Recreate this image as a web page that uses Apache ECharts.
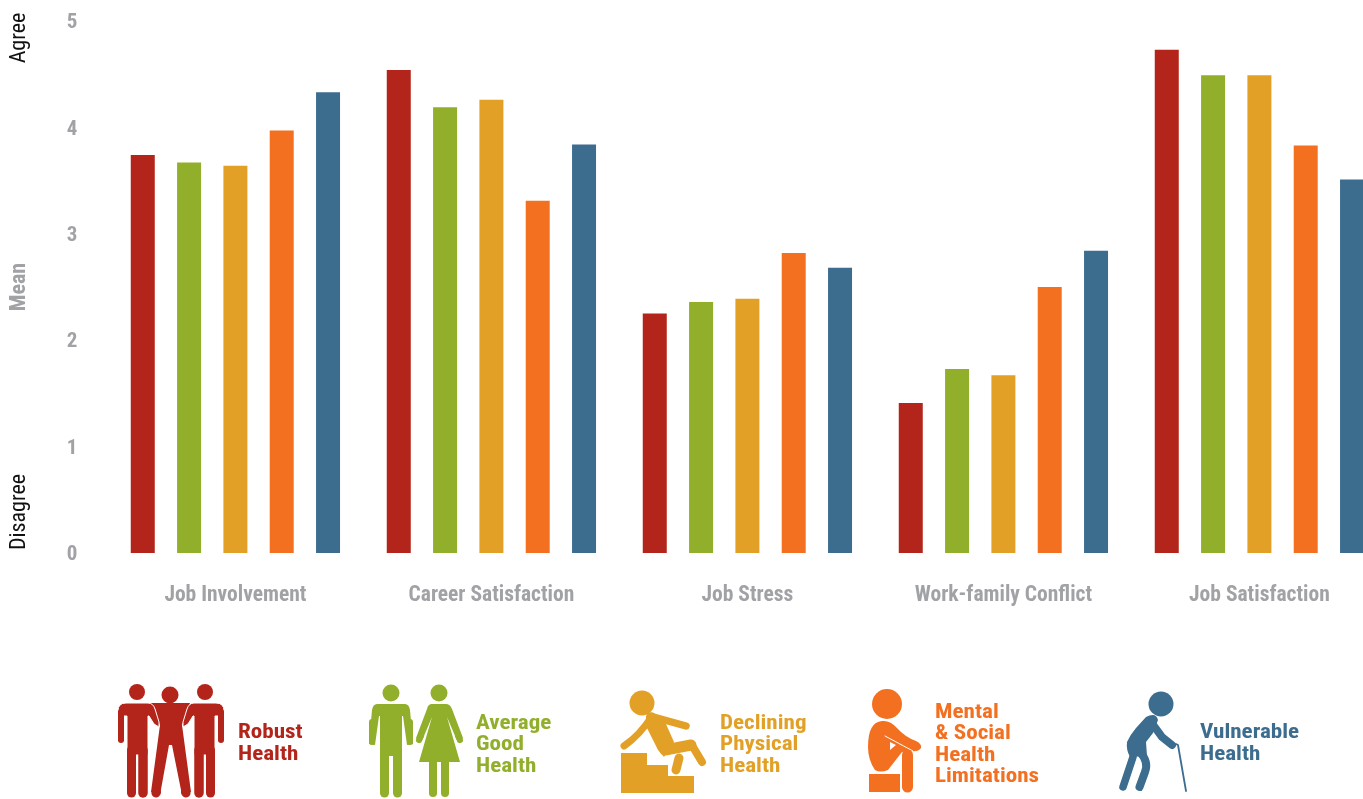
<!DOCTYPE html>
<html><head><meta charset="utf-8">
<style>html,body{margin:0;padding:0;background:#fff}#c{width:1363px;height:799px}</style>
<script src="https://cdn.jsdelivr.net/npm/echarts@6/dist/echarts.min.js"></script></head>
<body><div id="c"></div>
<script>
const categories = ['Job Involvement','Career Satisfaction','Job Stress','Work-family Conflict','Job Satisfaction'];
const robust    = [3.74,4.54,2.25,1.41,4.73];
const average   = [3.67,4.19,2.36,1.73,4.49];
const declining = [3.64,4.26,2.39,1.67,4.49];
const mental    = [3.97,3.31,2.82,2.50,3.83];
const vulnerable= [4.33,3.84,2.68,2.84,3.51];
const seriesNames = ['Robust Health','Average Good Health','Declining Physical Health','Mental & Social Health Limitations','Vulnerable Health'];
const colors = ['#B3241A','#92AF2C','#E3A026','#F47021','#3C6D8F'];
const legendLines = [['Robust','Health'],['Average','Good','Health'],['Declining','Physical','Health'],['Mental','& Social','Health','Limitations'],['Vulnerable','Health']];
const GREY='#A0A2A5', FONT='"Roboto Condensed","Liberation Sans",sans-serif';

let shapeCount=0;
function pathType(d){const n='iconPath'+(shapeCount++);echarts.graphic.registerShape(n,echarts.graphic.extendPath(d));return n;}
function head(cx,cy,r,c){return {type:'circle',silent:true,shape:{cx,cy,r},style:{fill:c}};}
function fillP(d,c){return {type:pathType(d),silent:true,style:{fill:c}};}
function limb(d,c,w){return {type:pathType(d),silent:true,style:{fill:'none',stroke:c,lineWidth:w,lineCap:'round',lineJoin:'round'}};}
function manRed(x,dir,c){
  const X=v=>x+dir*v;
  return [
    head(X(19),692,8,c),
    {type:pathType(`M${X(0)} 711 Q${X(0)} 703 ${X(8)} 703 L${X(30)} 703 Q${X(35)} 703 ${X(37)} 709 L${X(41)} 722 L${X(41)} 727 L${X(36)} 724 L${X(31)} 716 L${X(30)} 716 L${X(30)} 755 L${X(9)} 755 L${X(9)} 716 L${X(6)} 716 L${X(6)} 741 L${X(0)} 741 Z`),silent:true,style:{fill:c,stroke:'#fff',lineWidth:1}},
    limb(`M${X(3)} 712 L${X(3)} 740`,c,6),
    limb(`M${X(13.5)} 750 L${X(13.5)} 793`,c,9),
    limb(`M${X(25)} 750 L${X(25)} 793`,c,9.5)
  ];
}
const c0=colors[0],c1=colors[1],c2=colors[2],c3=colors[3],c4=colors[4];
const icons=[
  head(170,695,8.5,c0),
  fillP('M150 703 L190 703 L182 725 L182 728 L160 728 L160 725 Z',c0),
  fillP('M160 725 L182 725 L191 792 L182 795 L172 745 L169 745 L160 795 L151 792 Z',c0),
  limb('M156 793 L156.5 792',c0,9),
  limb('M186 793 L185.5 792',c0,9),
  ...manRed(118,1,c0),
  ...manRed(224,-1,c0),
  head(391,693,8.5,c1),
  fillP('M377 704 L405 704 Q409 704 410 710 L413 744 L407 745 L403 716 L402 716 L402 756 L380 756 L380 716 L379 716 L375 745 L369 744 L372 710 Q373 704 377 704 Z',c1),
  limb('M384.5 750 L384.5 793',c1,9),
  limb('M397.5 750 L397.5 793',c1,9),
  limb('M372 722 L372 742',c1,6),
  limb('M410 722 L410 742',c1,6),
  head(439,693,8.5,c1),
  fillP('M432 704 L446 704 Q450 704 452 709 L463 738 L458 743 L447 717 L460 762 L419 762 L432 717 L421 743 L416 738 L427 709 Q428 704 432 704 Z',c1),
  limb('M419 740 L421 736',c1,6),
  limb('M460 740 L458 736',c1,6),
  limb('M433 758 L433 793',c1,8),
  limb('M445 758 L445 793',c1,8),
  head(642,703,12.5,c2),
  fillP('M621 753 L647 753 L647 765 L668 765 L668 776 L694 776 L694 793 L621 793 Z',c2),
  limb('M652 716 Q640 735 624 746',c2,7),
  limb('M650 716 L686 726',c2,7.5),
  fillP('M646 716 L660 718 L666 724 L674 742 L664 757 L658 750 L646 726 Z',c2),
  limb('M665 750 L691 745',c2,11),
  limb('M693 747 L702 762',c2,8),
  limb('M679 758 L676 770',c2,9),
  head(887,704,15,c3),
  fillP('M868 747 Q868 722 882 721 Q890 720 897 728 Q905 737 916 741 Q922 744 921 748 Q918 752 912 751 L902 752 L888 770 Q880 773 875 770 Q868 760 868 747 Z',c3),
  fillP('M869 774 L900 774 L900 792 L869 792 Z',c3),
  limb('M885 736 L913 751','#fff',1),
  fillP('M890 750 L896 745 L890 742 Z','#fff'),
  limb('M907.5 755 L907.5 787',c3,11),
  head(1161,704,12.5,c4),
  fillP('M1146 717 Q1156 712 1158 720 L1153 733 L1146 742 L1147 756 L1130 757 Q1126 750 1127 742 Q1130 735 1136 728 Z',c4),
  limb('M1151 722 L1162 737 L1172 745',c4,8),
  limb('M1133 757 L1123 787',c4,7.5),
  limb('M1140 752 Q1149 762 1145 772 L1139.5 787',c4,8),
  limb('M1176 744 L1178 745 L1186 791',c4,1.8)
];

const legendX=[238,476,720,935,1200];
const legendY=[[733,755],[724,745,767],[724,745,767],[713,734,756,777],[733,755]];
const legendTexts=[];
legendLines.forEach((lines,i)=>lines.forEach((t,j)=>legendTexts.push({
  type:'text',silent:true,x:legendX[i],y:legendY[i][j],
  scaleX:1.1,
  style:{text:t,fill:colors[i],font:'bold 21px '+FONT,textAlign:'left',textVerticalAlign:'middle'}
})));
const sideTexts=[
  {type:'text',silent:true,x:19.5,y:38,rotation:Math.PI/2,style:{text:'Agree',fill:'#111',font:'22px '+FONT,textAlign:'center',textVerticalAlign:'middle'}},
  {type:'text',silent:true,x:19.5,y:512,rotation:Math.PI/2,style:{text:'Disagree',fill:'#111',font:'22px '+FONT,textAlign:'center',textVerticalAlign:'middle'}}
];

const chart=echarts.init(document.getElementById('c'),null,{renderer:'canvas'});
const valuesBySeries=[robust,average,declining,mental,vulnerable];
chart.setOption({
  animation:false,
  backgroundColor:'#fff',
  grid:{left:107.4,top:21,width:1280,height:532,containLabel:false,outerBoundsMode:'none'},
  xAxis:{type:'category',data:categories,axisLine:{show:false},axisTick:{show:false},
    axisLabel:{color:GREY,fontFamily:FONT,fontWeight:'bold',fontSize:21.5,margin:32,interval:0}},
  yAxis:{type:'value',min:0,max:5,interval:1,splitLine:{show:false},axisLine:{show:false},axisTick:{show:false},
    axisLabel:{margin:30,formatter:'{v|{value}}',
      rich:{v:{color:GREY,fontFamily:FONT,fontWeight:'bold',fontSize:21,padding:[4,0,0,0]}}},
    name:'Mean',nameLocation:'middle',nameRotate:90,nameGap:77,
    nameTextStyle:{color:GREY,fontFamily:FONT,fontWeight:'bold',fontSize:22}},
  series:seriesNames.map((n,i)=>({name:n,type:'bar',data:valuesBySeries[i],barWidth:24,barGap:'93%',
    itemStyle:{color:colors[i]},emphasis:{disabled:true}})),
  graphic:{elements:[...sideTexts,...icons,...legendTexts]}
});
</script></body></html>
